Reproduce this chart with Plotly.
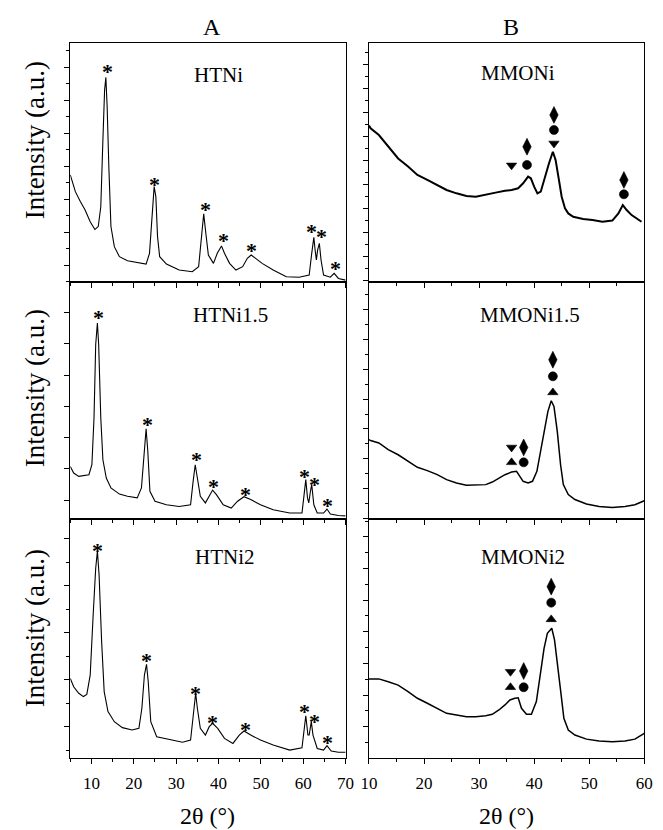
import plotly.graph_objects as go

# ---------------- data (intensity in arbitrary units 0-100) -------------
A1_x = [5, 6.2, 7.4, 8.5, 9.7, 10.8, 11.6, 12.2, 12.7, 13.1, 13.4, 13.7, 14.1, 14.6, 15.4, 16.6, 18.5, 20.8, 22.9, 23.7,
        24.2, 24.8, 25.2, 25.6, 26.1, 27.7, 30.7, 33.8, 35.3, 35.9, 36.5, 37.0, 37.6, 38.8, 39.7, 40.7, 41.4, 42.6, 44.1, 45.7,
        46.8, 47.7, 48.7, 50.3, 52.9, 56.0, 59.0, 61.4, 62.0, 62.5, 62.8, 63.1, 63.4, 63.8, 64.2, 64.8, 66.4, 67.3, 68.3, 70]
A1_y = [44.8, 37.8, 33.6, 30.1, 25.2, 22.0, 23.2, 31.5, 59.4, 80.3, 85.6, 73.4, 48.3, 23.2, 14.8, 10.6, 8.9, 8.1, 7.5, 12,
        23.2, 39.9, 35.7, 19, 10.6, 7.5, 5, 4.3, 6.4, 16.2, 28.5, 20.4, 11.3, 7.8, 12, 15.1, 12, 7.8, 5, 6.4,
        9.9, 11.3, 9.9, 7.8, 5, 2.2, 2, 2.9, 12, 18.7, 13.4, 9.2, 13.4, 16.2, 9.2, 2.9, 2, 3.6, 1.5, 0.8]

A2_x = [5, 5.8, 7.0, 8.5, 9.4, 10.1, 10.6, 11.0, 11.4, 11.7, 12.2, 12.7, 13.5, 14.6, 16.6, 18.5, 20.8, 21.8, 22.5, 22.9,
        23.3, 23.8, 25.0, 27.7, 30.7, 33.4, 34.0, 34.5, 35.0, 35.7, 36.9, 37.8, 38.6, 39.5, 41.1, 43.0, 44.5, 46.0, 47.6, 49.9,
        52.9, 56.8, 59.7, 60.2, 60.6, 61.0, 61.3, 61.7, 62.0, 62.5, 63.3, 64.8, 65.6, 66.4, 68.3, 70]
A2_y = [22.2, 19.4, 18, 18.4, 18.7, 22.9, 42.6, 73.6, 82.7, 73.6, 42.6, 25, 17.3, 13.1, 10.5, 9.6, 8.9, 13.1, 27.1, 38.1,
        28.6, 11.7, 7.5, 6, 5.3, 6, 15.9, 22.9, 17.3, 9.6, 6.8, 9.6, 12.2, 10.3, 6, 4.6, 7.5, 9.4, 8.2, 6,
        3.9, 2.5, 2.5, 10.3, 16.6, 8.9, 6.8, 11.7, 14.5, 6, 2.5, 2.5, 4.2, 2.1, 1.5, 1.3]

A3_x = [5, 5.8, 7.0, 8.1, 8.9, 9.7, 10.4, 11.0, 11.4, 11.8, 12.4, 13.0, 13.9, 15.4, 17.3, 19.6, 21.2, 21.9, 22.5, 23.0,
        23.4, 24.0, 25.4, 28.4, 31.5, 33.4, 34.0, 34.6, 35.0, 35.7, 36.9, 37.8, 38.6, 39.8, 41.4, 43.4, 44.9, 46.0, 47.6, 49.9,
        52.9, 56.8, 59.7, 60.2, 60.6, 61.1, 61.4, 61.9, 62.3, 63.3, 64.8, 65.6, 66.6, 68.3, 70]
A3_y = [33.3, 29.8, 27.1, 25.7, 26.6, 34.7, 59.8, 79.4, 86.6, 76.6, 48.7, 27.8, 19.4, 15.2, 12.7, 11.7, 12.4, 20.8, 34.7, 39.2,
        31.9, 15.2, 8.9, 7.9, 6.6, 7.5, 18, 27.1, 20.8, 12.4, 9.6, 13.1, 14.5, 12.4, 8.2, 6.1, 9.6, 11.3, 9.6, 7.5,
        5.4, 3.3, 4.3, 12.4, 17.7, 9.6, 9.6, 15.2, 9.6, 4, 3.3, 5.2, 2.9, 2.4, 2.4]

B1_x = [10, 10.3, 11.8, 13.5, 15.3, 17.1, 18.8, 20.6, 22.4, 24.1, 25.9, 27.7, 29.4, 31.2, 33.0, 34.7, 35.9, 37.1, 38.0, 38.9,
        39.4, 40.0, 40.6, 41.2, 41.8, 42.7, 43.4, 43.9, 44.5, 45.0, 45.6, 46.2, 47.1, 48.9, 50.6, 52.4, 54.2, 55.3, 56.1, 56.8,
        57.7, 58.6, 59.5]
B1_y = [65.5, 64.3, 61.5, 56.6, 51.7, 48.3, 44.8, 42.7, 40.6, 38.5, 37.1, 36, 35.7, 36.4, 37.4, 38.2, 38.5, 39.2, 41.3, 44.1,
        43.4, 39.9, 37.1, 37.8, 42.7, 49.7, 54.5, 51, 42.7, 35.7, 30.8, 28.7, 27.3, 26.4, 25.9, 25.2, 25.7, 28.7, 32.2, 30.1,
        28, 26.6, 25.2]

B2_x = [10, 10.3, 11.8, 13.5, 15.3, 17.1, 18.8, 20.6, 22.4, 24.1, 25.9, 27.7, 29.4, 31.2, 32.4, 33.6, 34.7, 35.9, 36.8, 37.4,
        38.0, 38.9, 39.7, 40.5, 41.2, 41.9, 42.5, 43.1, 43.6, 44.2, 44.8, 45.3, 46.2, 47.4, 49.5, 51.8, 54.2, 56.5, 58.3, 60]
B2_y = [33.5, 33.1, 32.1, 29.3, 27.1, 24.3, 21.8, 20.4, 18.7, 16.6, 15.2, 14.2, 14.2, 14.5, 15.6, 17.3, 18.7, 19.8, 20.1, 18,
        15.9, 15.2, 15.9, 20.1, 28.6, 38.4, 45.4, 49.9, 47.5, 37, 22.9, 14.5, 10.3, 8.2, 6.3, 5.3, 4.9, 5.3, 6, 7.7]

B3_x = [10, 10.3, 11.8, 13.5, 15.3, 17.1, 18.8, 20.6, 22.4, 24.1, 25.9, 27.7, 29.4, 31.2, 32.4, 33.6, 34.7, 35.6, 36.5, 37.1,
        37.7, 38.6, 39.5, 40.4, 41.1, 41.8, 42.4, 43.2, 43.7, 44.3, 44.9, 45.4, 46.2, 47.4, 49.5, 51.8, 54.2, 56.5, 58.3, 60]
B3_y = [33.1, 33.1, 33.1, 31.9, 30.5, 27.8, 25, 22.9, 20.8, 18.7, 18, 17.3, 17.3, 17.7, 18.3, 20.1, 22.2, 24.3, 25, 25.2,
        20.8, 18.3, 18.3, 23.6, 34.7, 45.9, 52.2, 54.3, 49.4, 38.9, 26.4, 16.6, 11.7, 9.6, 7.9, 7.1, 6.8, 7.1, 7.9, 10.3]

# hydrotalcite reflections (*)
A1_star_x = [13.9, 25, 36.9, 41.1, 47.8, 62.0, 64.4, 67.7]
A1_star_y = [90.4, 43.4, 32.9, 19.7, 15.9, 23.8, 21.5, 8.1]
A2_star_x = [11.6, 23.2, 34.7, 38.8, 46.4, 60.2, 62.6, 65.8]
A2_star_y = [87.6, 42.6, 27.6, 16.2, 12.8, 20.4, 17.3, 8.2]
A3_star_x = [11.4, 22.9, 34.6, 38.5, 46.3, 60.3, 62.6, 65.7]
A3_star_y = [89.4, 43.4, 29.4, 17.3, 14.5, 21.8, 17.6, 8.9]

# phase markers in B
B1_mk_x = [35.9, 38.7, 38.7, 43.6, 43.6, 43.6, 56.3, 56.3]
B1_mk_y = [48.8, 56.6, 49.0, 69.9, 63.6, 58.0, 42.7, 36.7]
B1_mk_p = ["tri_down", "diamond", "circle", "diamond", "circle", "tri_down", "diamond", "circle"]
B2_mk_x = [35.9, 38.1, 35.9, 38.1, 43.4, 43.4, 43.4]
B2_mk_y = [30.2, 30.2, 23.9, 23.9, 67.2, 60.2, 53.4]
B2_mk_p = ["tri_down", "diamond", "tri_up", "circle", "diamond", "circle", "tri_up"]
B3_mk_x = [35.7, 38.1, 35.7, 38.1, 43.1, 43.1, 43.1]
B3_mk_y = [36.1, 36.4, 29.6, 29.6, 71.7, 65.0, 58.0]
B3_mk_p = ["tri_down", "diamond", "tri_up", "circle", "diamond", "circle", "tri_up"]

sample_names = ["HTNi", "MMONi", "HTNi1.5", "MMONi1.5", "HTNi2", "MMONi2"]
sample_pos_x = [39.9, 37.0, 42.9, 39.2, 41.5, 37.9]
sample_pos_y = [86.6, 87.4, 86.1, 86.1, 84.1, 84.1]
col_titles = ["A", "B"]
x_title = "2θ (°)"
y_title = "Intensity (a.u.)"

# ---------------- layout geometry (pixels) ----------------
W, H = 663, 830
colpx = [(63, 346), (370, 653)]
rowpx = [(43, 282), (282, 519), (519, 758)]
FONT = "Liberation Serif, Times New Roman, serif"

sym_map = {"diamond": ("diamond-tall", 12), "circle": ("circle", 9),
           "tri_down": ("triangle-down", 9), "tri_up": ("triangle-up", 9)}

# per-panel y tick settings (tick0, major dtick, minor dtick or None)
ytick_cfg = [(7.0, 13.8, 6.9), (10.6, 10.04, 5.02),
             (7.9, 13.2, None), (12.8, 12.6, 6.3),
             (13.1, 19.66, 9.83), (13.1, 13.25, 6.62)]

panels = [
    (A1_x, A1_y, 1.1), (B1_x, B1_y, 2.0),
    (A2_x, A2_y, 1.1), (B2_x, B2_y, 1.5),
    (A3_x, A3_y, 1.1), (B3_x, B3_y, 1.5),
]
stars = {0: (A1_star_x, A1_star_y), 2: (A2_star_x, A2_star_y), 4: (A3_star_x, A3_star_y)}
marks = {1: (B1_mk_x, B1_mk_y, B1_mk_p), 3: (B2_mk_x, B2_mk_y, B2_mk_p), 5: (B3_mk_x, B3_mk_y, B3_mk_p)}

fig = go.Figure()
annotations = []
layout = {}

for i, (xs, ys, lw) in enumerate(panels):
    r, c = divmod(i, 2)
    n = i + 1
    xa = "x" if n == 1 else f"x{n}"
    ya = "y" if n == 1 else f"y{n}"
    fig.add_trace(go.Scatter(x=xs, y=ys, mode="lines", line=dict(color="black", width=lw),
                             xaxis=xa, yaxis=ya, showlegend=False, hoverinfo="skip"))
    x0, x1 = colpx[c]
    t, b = rowpx[r]
    xr = [5, 70] if c == 0 else [10, 60]
    bottom = (r == 2)
    layout["xaxis" if n == 1 else f"xaxis{n}"] = dict(
        domain=[x0 / W, x1 / W], anchor=ya, range=xr,
        showline=True, linecolor="black", linewidth=1.3, mirror=True,
        ticks="outside", ticklen=5, tickwidth=1.1, tickcolor="black",
        tick0=10, dtick=10, showgrid=False, zeroline=False,
        minor=dict(ticks="outside", ticklen=3, tickwidth=1, tickcolor="black", dtick=5, tick0=5, showgrid=False),
        showticklabels=bottom, ticklabelstandoff=4,
        tickfont=dict(family=FONT, size=17, color="black"),
    )
    tk0, dtk, mdtk = ytick_cfg[i]
    yax = dict(
        domain=[1 - b / H, 1 - t / H], anchor=xa, range=[0, 100],
        showline=True, linecolor="black", linewidth=1.3, mirror=True,
        ticks="outside", ticklen=5, tickwidth=1.1, tickcolor="black",
        tick0=tk0, dtick=dtk, showticklabels=False, showgrid=False, zeroline=False,
    )
    if mdtk:
        yax["minor"] = dict(ticks="outside", ticklen=3, tickwidth=1, tickcolor="black",
                            dtick=mdtk, tick0=tk0, showgrid=False)
    layout["yaxis" if n == 1 else f"yaxis{n}"] = yax

    # sample label
    annotations.append(dict(x=sample_pos_x[i], y=sample_pos_y[i], xref=xa, yref=ya, text=sample_names[i],
                            showarrow=False, xanchor="center", yanchor="middle",
                            font=dict(family=FONT, size=21, color="black")))
    if i in stars:
        sx, sy = stars[i]
        for a, bb in zip(sx, sy):
            annotations.append(dict(x=a, y=bb, xref=xa, yref=ya, text="<b>*</b>", showarrow=False,
                                    xanchor="center", yanchor="middle",
                                    yshift=-6, font=dict(family=FONT, size=22, color="black")))
    if i in marks:
        mx, my, mp = marks[i]
        fig.add_trace(go.Scatter(x=mx, y=my, mode="markers", xaxis=xa, yaxis=ya, showlegend=False,
                                 hoverinfo="skip",
                                 marker=dict(symbol=[sym_map[p][0] for p in mp],
                                             size=[sym_map[p][1] for p in mp], opacity=1,
                                             color="black", line=dict(width=0.6, color="black"))))

# column titles and x titles
for c, tt in enumerate(col_titles):
    cx = (colpx[c][0] + colpx[c][1]) / 2
    annotations.append(dict(x=(cx + 4) / W, y=1 - 27 / H, xref="paper", yref="paper", text=tt, showarrow=False,
                            xanchor="center", yanchor="middle",
                            font=dict(family=FONT, size=24, color="black")))
    annotations.append(dict(x=cx / W, y=1 - 816 / H, xref="paper", yref="paper", text=x_title, showarrow=False,
                            xanchor="center", yanchor="middle",
                            font=dict(family=FONT, size=24, color="black")))
# y titles
for yc in [140, 388, 628]:
    annotations.append(dict(x=27 / W, y=1 - yc / H, xref="paper", yref="paper", text=y_title, showarrow=False,
                            xanchor="center", yanchor="middle",
                            textangle=-90, font=dict(family=FONT, size=27, color="black")))

fig.update_layout(width=W, height=H, margin=dict(l=0, r=0, t=0, b=0),
                  paper_bgcolor="white", plot_bgcolor="white",
                  annotations=annotations, **layout)

fig.write_html("out.html")
